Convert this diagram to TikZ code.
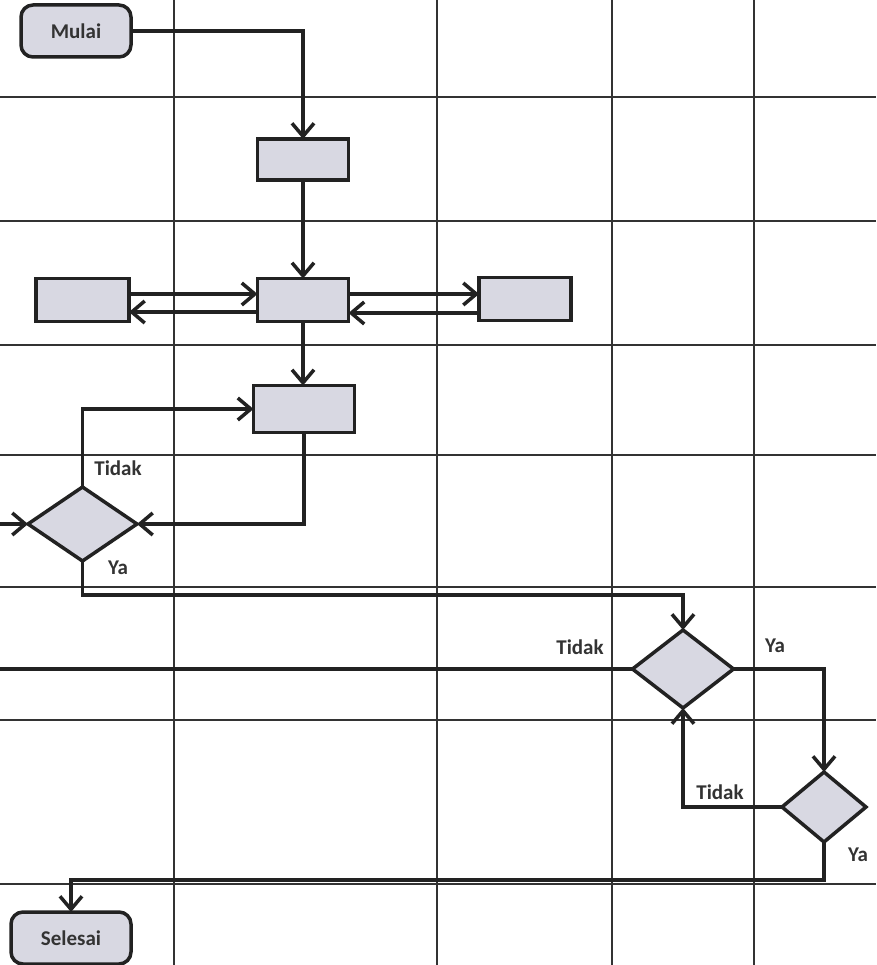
\documentclass[tikz,border=0pt]{standalone}
\usepackage{fontspec}
\setmainfont{Carlito}
\usetikzlibrary{arrows.meta,shapes.geometric,calc}
\definecolor{nodefill}{HTML}{D8D8E2}
\definecolor{edgecol}{HTML}{222222}
\definecolor{gridcol}{HTML}{333333}
\definecolor{txtcol}{HTML}{333333}
\begin{document}
\begin{tikzpicture}[x=1pt,y=-1pt,
  gridline/.style={draw=gridcol,line width=2pt},
  boxnode/.style={draw=edgecol,line width=3.5pt,fill=nodefill,rectangle,inner sep=0pt,outer sep=0pt},
  termnode/.style={boxnode,rounded corners=12pt,text=txtcol,font=\fontsize{21}{24}\selectfont\bfseries},
  decnode/.style={draw=edgecol,line width=3.5pt,fill=nodefill,diamond,inner sep=0pt,outer sep=0pt},
  conn/.style={draw=edgecol,line width=3.5pt,-{Straight Barb[length=13pt,width=22pt]}},
  plainconn/.style={draw=edgecol,line width=3.5pt},
  lbl/.style={text=txtcol,font=\fontsize{21}{24}\selectfont\bfseries,inner sep=0pt}]
\useasboundingbox (0,0) rectangle (876,965);
\fill[white] (0,0) rectangle (876,965);
% grid
\foreach \yy in {97,221,345,455,587,720,884} {\draw[gridline] (0,\yy) -- (876,\yy);}
\foreach \xx in {174,437,612,754} {\draw[gridline] (\xx,0) -- (\xx,965);}
% nodes
\node[termnode,minimum width=110pt,minimum height=52pt] (mulai) at (76,31) {Mulai};
\node[boxnode,minimum width=91pt,minimum height=41pt] (b1) at (303,159.5) {};
\node[boxnode,minimum width=91pt,minimum height=43pt] (b2) at (303,300) {};
\node[boxnode,minimum width=93pt,minimum height=43pt] (bl) at (82.5,300) {};
\node[boxnode,minimum width=92pt,minimum height=43pt] (br) at (525,299) {};
\node[boxnode,minimum width=101pt,minimum height=47pt] (b3) at (304,409) {};
\node[decnode,minimum width=109pt,minimum height=74pt] (d1) at (82.5,524) {};
\node[decnode,minimum width=101pt,minimum height=78pt] (d2) at (683,669) {};
\node[decnode,minimum width=84pt,minimum height=70pt] (d3) at (824,807) {};
\node[termnode,minimum width=120pt,minimum height=52pt] (selesai) at (71,938) {Selesai};
% helper coordinates
\coordinate (lin) at (0,524);
\coordinate (ledge) at (0,669);
\coordinate (ya1y) at (0,595);
\coordinate (ya3y) at (0,880);
% connectors
\draw[conn] (mulai.east) -| (b1.north);
\draw[conn] (b1.south) -- (b2.north);
\draw[conn] ([yshift=6pt]bl.east) -- ([yshift=6pt]bl.east -| b2.west);
\draw[conn] ([yshift=-12pt]b2.west) -- ([yshift=-12pt]b2.west -| bl.east);
\draw[conn] ([yshift=6pt]b2.east) -- ([yshift=6pt]b2.east -| br.west);
\draw[conn] ([yshift=-14pt]br.west) -- ([yshift=-14pt]br.west -| b2.east);
\draw[conn] (b2.south) -- (b2.south |- b3.north);
\draw[conn] (b3.south) |- (d1.east);
\draw[conn] (d1.north) |- (b3.west);
\draw[conn] (lin) -- (d1.west);
\draw[conn] (d1.south) -- (d1.south |- ya1y) -| (d2.north);
\draw[plainconn] (d2.west) -- (ledge);
\draw[conn] (d2.east) -| (d3.north);
\draw[conn] (d3.west) -| (d2.south);
\draw[conn] (d3.south) -- (d3.south |- ya3y) -| (selesai.north);
% labels
\node[lbl] (t1) at (118,468) {Tidak};
\node[lbl] (y1) at (118,568) {Ya};
\node[lbl] (t2) at (580,647) {Tidak};
\node[lbl] (y2) at (775,646) {Ya};
\node[lbl] (t3) at (720,792) {Tidak};
\node[lbl] (y3) at (858,855) {Ya};
\end{tikzpicture}
\end{document}
